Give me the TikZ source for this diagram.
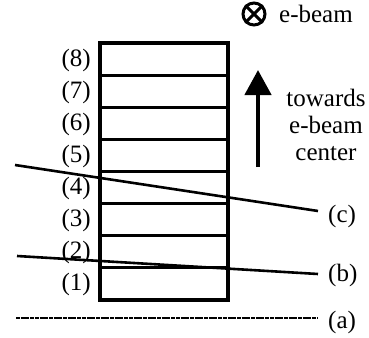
\documentclass[tikz,border=0pt]{standalone}
\usepackage{fontspec}
\setmainfont{Liberation Serif}
\usetikzlibrary{arrows.meta}
\tikzset{
  layer/.style={draw, line width=3pt, minimum width=128pt, minimum height=32.125pt, inner sep=0pt, outer sep=0pt},
  lbl/.style={font=\fontsize{25}{27}\selectfont, inner sep=0pt},
  beamline/.style={line width=2.6pt},
}
\begin{document}
\begin{tikzpicture}[x=1pt,y=-1pt]
\useasboundingbox (0,0) rectangle (369,337);
% layers
\foreach \i in {1,...,8}{
  \node[layer] (l\i) at (164,{300-32.125*(\i-0.5)}) {};
  \node[lbl, anchor=east] (t\i) at (91,{300-32.125*(\i-0.5)+1}) {(\i)};
}
\draw[line width=3.6pt] (l8.north west) rectangle (l1.south east);
% lines
\coordinate (c1) at (15,165);
\coordinate (c2) at (318,211);
\coordinate (b1) at (17,256);
\coordinate (b2) at (318,274);
\coordinate (a1) at (16,318);
\coordinate (a2) at (317,318);
\draw[beamline] (c1) -- (c2);
\draw[beamline] (b1) -- (b2);
\draw[beamline, dash pattern=on 4pt off 0.7pt] (a1) -- (a2);
\node[lbl, anchor=west] (lc) at (328,216) {(c)};
\node[lbl, anchor=west] (lb) at (328,275) {(b)};
\node[lbl, anchor=west] (la) at (328,322) {(a)};
% e-beam symbol
\node[draw, circle, line width=3pt, minimum size=22pt, inner sep=0pt] (ot) at (254,14) {};
\draw[line width=3pt] (ot.north west) -- (ot.south east);
\draw[line width=3pt] (ot.north east) -- (ot.south west);
\node[lbl, anchor=west] (eb) at (279,14) {e-beam};
% arrow
\coordinate (ab) at (258,167);
\coordinate (at) at (258,70);
\draw[line width=4.5pt, -{Triangle[width=26pt,length=25pt]}] (ab) -- (at);
\node[lbl, align=center] (tw) at (326,125) {towards\\e-beam\\center};
\end{tikzpicture}
\end{document}
